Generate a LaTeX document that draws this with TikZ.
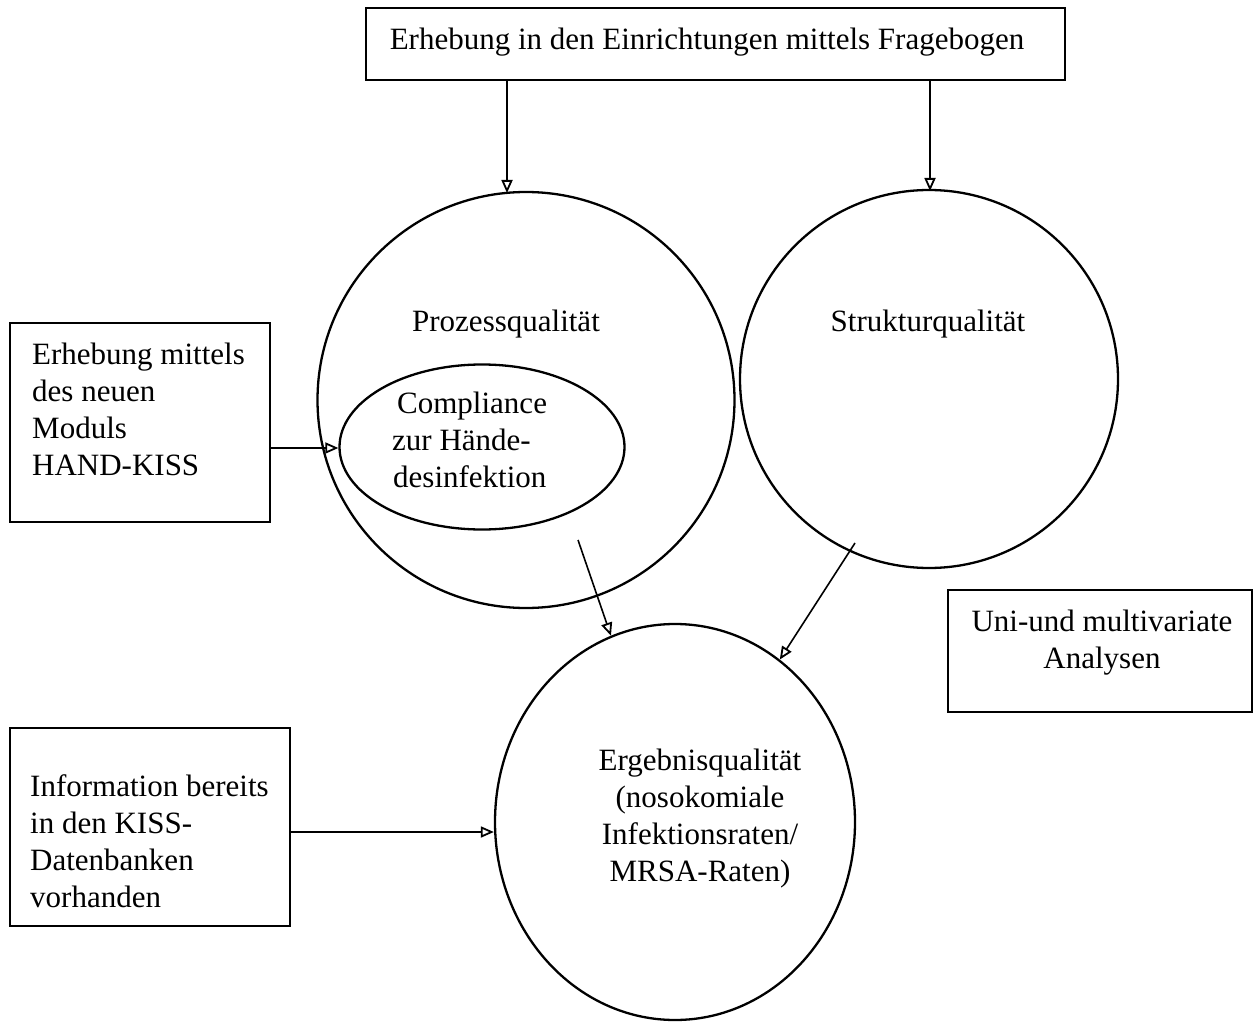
\documentclass[tikz,border=0pt]{standalone}
\usepackage{fontspec}
\setmainfont{Liberation Serif}
\usetikzlibrary{arrows.meta,shapes.geometric}
\begin{document}
\begin{tikzpicture}[x=1pt,y=-1pt,
  every node/.style={font=\fontsize{31}{37}\selectfont},
  box/.style={draw,line width=2pt,inner sep=0pt},
  ring/.style={draw,line width=2.3pt,ellipse,inner sep=0pt},
  lbl/.style={align=left,anchor=north west,inner sep=0pt},
  arr/.style={line width=1.6pt,-{Triangle[open,length=13pt,width=11pt,line width=1.8pt]}}]
\useasboundingbox (0,0) rectangle (1253,1027);
% boxes
\node[box,minimum width=699pt,minimum height=72pt] (top) at (715.5,44) {};
\node[inner sep=0pt] (toptxt) at (707,42) {Erhebung in den Einrichtungen mittels Fragebogen};
\node[box,minimum width=260pt,minimum height=199pt] (hk) at (140,422.5) {};
\node[lbl] (hktxt) at (32,343) {Erhebung mittels\\des neuen\\Moduls\\HAND-KISS};
\node[box,minimum width=280pt,minimum height=198pt] (kiss) at (150,827) {};
\node[lbl] (kisstxt) at (30,774) {Information bereits\\in den KISS-\\Datenbanken\\vorhanden};
\node[box,minimum width=304pt,minimum height=122pt] (ana) at (1100,651) {};
\node[align=center,inner sep=0pt] (anatxt) at (1102,643) {Uni-und multivariate\\Analysen};
% circles
\node[ring,minimum width=417pt,minimum height=416pt] (pro) at (526,400) {};
\node[inner sep=0pt] (protxt) at (506,324) {Prozessqualität};
\node[ring,minimum width=285pt,minimum height=165pt] (comp) at (482,447) {};
\node[lbl] (comptxt) at (392,392) {\hspace*{5pt}Compliance\\zur Hände-\\\hspace*{1pt}desinfektion};
\node[ring,minimum width=378pt,minimum height=378pt] (str) at (929,379) {};
\node[inner sep=0pt] (strtxt) at (928,324) {Strukturqualität};
\node[ring,minimum width=360pt,minimum height=396pt] (erg) at (675,822) {};
\node[align=center,inner sep=0pt] (ergtxt) at (700,819) {Ergebnisqualität\\(nosokomiale\\Infektionsraten/\\MRSA-Raten)};
% connector start points
\coordinate (t1) at (507,80);
\coordinate (t2) at (930,80);
\coordinate (p1) at (578,540);
\coordinate (s1) at (855,543);
% arrows
\draw[arr] (t1) -- (507,193);
\draw[arr] (t2) -- (930,191);
\draw[arr] (hk.east |- 0,448) -- (comp.west |- 0,448);
\draw[arr] (p1) -- (erg);
\draw[arr] (s1) -- (erg);
\draw[arr] (kiss.east |- 0,832) -- (erg.west |- 0,832);
\end{tikzpicture}
\end{document}
